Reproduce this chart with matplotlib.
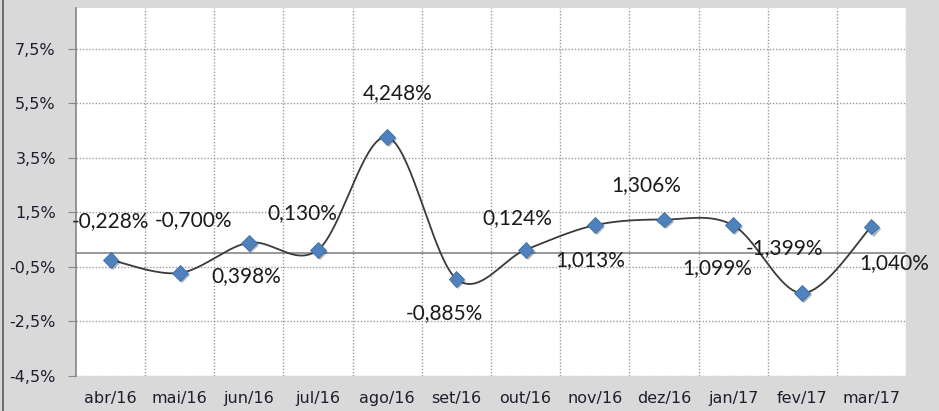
import matplotlib
matplotlib.use('Agg')
import matplotlib.pyplot as plt
import matplotlib.patheffects as pe
from matplotlib.lines import Line2D
import numpy as np

# dados
meses = ['abr/16', 'mai/16', 'jun/16', 'jul/16', 'ago/16', 'set/16',
         'out/16', 'nov/16', 'dez/16', 'jan/17', 'fev/17', 'mar/17']
valores = [-0.24, -0.72, 0.39, 0.13, 4.26, -0.94, 0.13, 1.03, 1.24, 1.03, -1.46, 0.98]
rotulos = ['-0,228%', '-0,700%', '0,398%', '0,130%', '4,248%', '-0,885%',
           '0,124%', '1,013%', '1,306%', '1,099%', '-1,399%', '1,040%']
yticks = [-4.5, -2.5, -0.5, 1.5, 3.5, 5.5, 7.5]

# deslocamento dos rótulos (pixels)
offsets = [(0, 39), (14, 53), (-3, -33), (-16, 37), (10, 44), (-12, -34),
           (-8, 32), (-5, -35), (-18, 34), (-16, -43), (-18, 45), (23, -36)]

fundo = '#d9d9d9'
fig = plt.figure(figsize=(9.39, 4.11), dpi=100)
fig.patch.set_facecolor(fundo)
ax = fig.add_axes([76 / 939, 1 - 376 / 411, (906 - 76) / 939, (376 - 8) / 411])
ax.set_facecolor('white')

x = np.arange(len(meses))
y = np.array(valores)

# linha suavizada (estilo Excel, Bezier tipo Catmull-Rom)
px = np.concatenate([[x[0]], x, [x[-1]]])
py = np.concatenate([[y[0]], y, [y[-1]]])
cx, cy = [], []
t = np.linspace(0, 1, 40)
for i in range(1, len(px) - 2):
    p0 = np.array([px[i], py[i]])
    p3 = np.array([px[i + 1], py[i + 1]])
    p1 = p0 + (np.array([px[i + 1], py[i + 1]]) - np.array([px[i - 1], py[i - 1]])) / 6
    p2 = p3 - (np.array([px[i + 2], py[i + 2]]) - np.array([px[i], py[i]])) / 6
    b = ((1 - t) ** 3)[:, None] * p0 + (3 * (1 - t) ** 2 * t)[:, None] * p1 \
        + (3 * (1 - t) * t ** 2)[:, None] * p2 + (t ** 3)[:, None] * p3
    cx.extend(b[:, 0]); cy.extend(b[:, 1])
ax.plot(cx, cy, color='#3a3a3a', lw=1.3, zorder=3)

ax.plot(x, y, linestyle='none', marker='D', markersize=8, color='#4f81bd',
        markeredgecolor='#3c6da8', markeredgewidth=0.6, zorder=4,
        path_effects=[pe.SimplePatchShadow(offset=(1.5, -1.5), alpha=0.35), pe.Normal()])

for xi, yi, lab, (dx, dy) in zip(x, y, rotulos, offsets):
    ax.annotate(lab, (xi, yi), xytext=(dx * 0.72, dy * 0.72), textcoords='offset points',
                ha='center', va='center', fontsize=15, family='Lato', color='#1a1a1a', zorder=5)

# eixos
ax.set_xlim(-0.5, 11.5)
ax.set_ylim(-4.5, 9.0)
ax.set_yticks(yticks)
ax.set_yticklabels([f'{v:.1f}%'.replace('.', ',') for v in yticks])
ax.set_xticks(x)
ax.set_xticklabels(meses)
ax.set_xticks(np.arange(0.5, 12, 1), minor=True)
ax.tick_params(axis='x', which='both', length=0, pad=11, labelsize=11.5, labelcolor='#1e1e2e')
ax.tick_params(axis='y', length=5.5, color='#868686', pad=9, labelsize=11.5, labelcolor='#1e1e2e')

ax.grid(True, axis='y', which='major', linestyle=(0, (1, 1.3)), color='#9a9a9a', lw=1)
ax.grid(True, axis='x', which='minor', linestyle=(0, (1, 1.3)), color='#9a9a9a', lw=1)
ax.set_axisbelow(True)
ax.axhline(0, color='#868686', lw=1.2, zorder=2)
for s in ['top', 'right', 'bottom']:
    ax.spines[s].set_visible(False)
ax.spines['left'].set_color('#868686')
ax.spines['left'].set_linewidth(1.2)

# borda esquerda
fig.add_artist(Line2D([3 / 939, 3 / 939], [0, 1], color='#5a5a5a', lw=1.2))

fig.savefig('out.png', dpi=100, facecolor=fundo)
